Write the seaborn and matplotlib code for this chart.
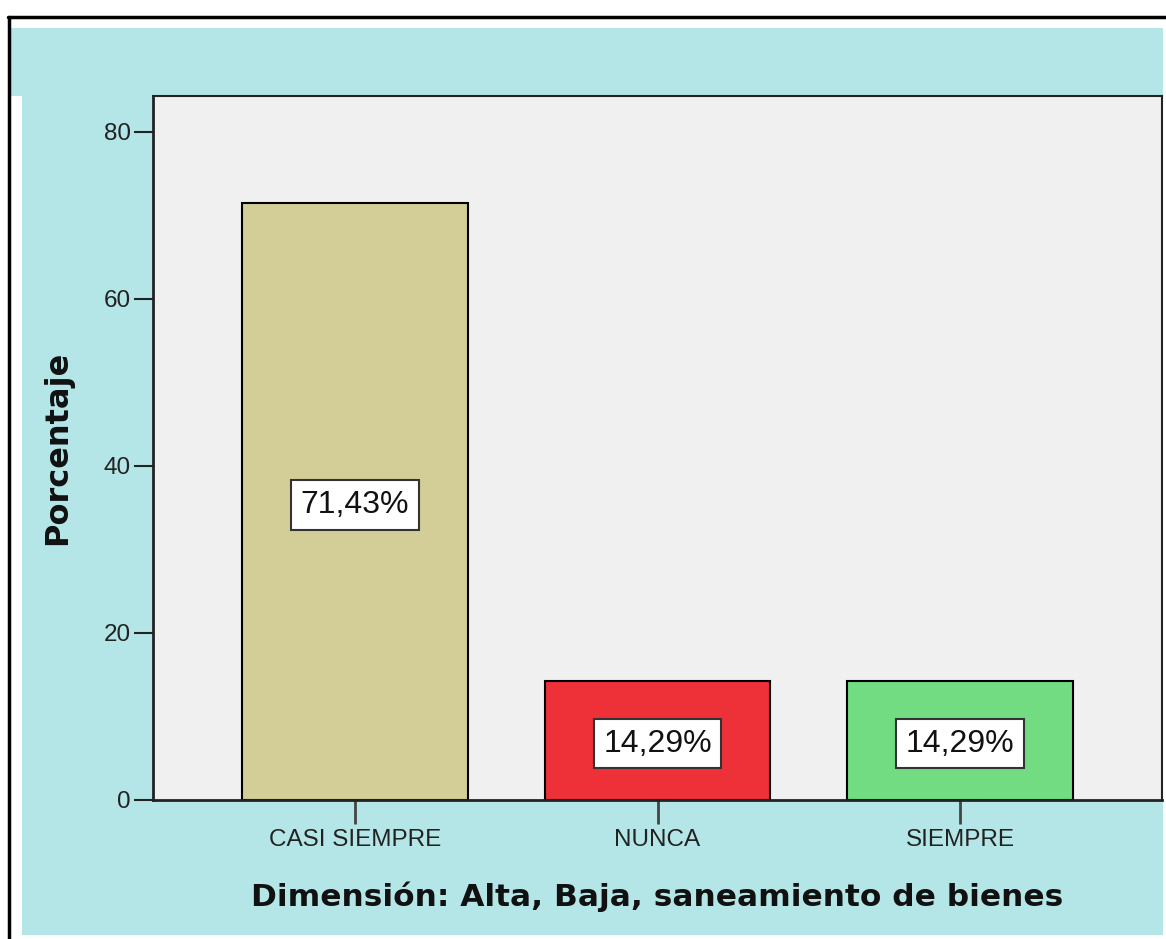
import seaborn as sns
import matplotlib.pyplot as plt
import pandas as pd
from matplotlib.patches import Rectangle
from matplotlib.lines import Line2D

categorias = ["CASI SIEMPRE", "NUNCA", "SIEMPRE"]
porcentajes = [71.43, 14.29, 14.29]
etiquetas = ["71,43%", "14,29%", "14,29%"]
colores = ["#d3ce97", "#ee3039", "#71dc82"]
yticks = [0, 20, 40, 60, 80]

df = pd.DataFrame({"cat": categorias, "pct": porcentajes})

sns.set_theme(style="white")
plt.rcParams["font.family"] = ["Liberation Sans", "DejaVu Sans"]

W, H = 1166, 939
fig = plt.figure(figsize=(W / 100, H / 100), dpi=100)
fig.patch.set_facecolor("white")

# marco y fondo
fig.patches.append(Rectangle((10 / W, 1 - 935 / H), 1153 / W, (935 - 28) / H,
                             transform=fig.transFigure, facecolor="#b5e6e7",
                             edgecolor="none", zorder=-10))
fig.patches.append(Rectangle((10 / W, 1 - 935 / H), 12 / W, (935 - 96) / H,
                             transform=fig.transFigure, facecolor="white",
                             edgecolor="none", zorder=-9))
fig.lines.append(Line2D([8 / W, 1], [1 - 17 / H, 1 - 17 / H], transform=fig.transFigure,
                        color="black", lw=2.5, zorder=-8))
fig.lines.append(Line2D([8.5 / W, 8.5 / W], [0, 1 - 17 / H], transform=fig.transFigure,
                        color="black", lw=2.5, zorder=-8))

ax = fig.add_axes([153 / W, 1 - 800 / H, (1162 - 153) / W, (800 - 96) / H])
ax.set_facecolor("#f0f0f0")

sns.barplot(data=df, x="cat", y="pct", hue="cat", palette=colores, legend=False,
            saturation=1, width=0.746, edgecolor="black", linewidth=1.5, ax=ax,
            zorder=2)

for i, (v, t) in enumerate(zip(porcentajes, etiquetas)):
    ax.text(i, v / 2 - 0.4, t, ha="center", va="center", fontsize=23, color="#111111",
            bbox=dict(boxstyle="square,pad=0.3", facecolor="white",
                      edgecolor="#333333", lw=1.5), zorder=3)

ax.set_xlim(-0.667, 2.667)
ax.set_ylim(0, 84.3)
ax.set_yticks(yticks)
ax.set_yticklabels([str(v) for v in yticks], fontsize=17.5, color="#222222")
ax.set_xticks(range(len(categorias)))
ax.set_xticklabels(categorias, fontsize=17.5, color="#222222")
ax.tick_params(axis="y", direction="out", length=14, width=1.5, color="#222222",
               left=True, pad=2)
ax.tick_params(axis="x", direction="out", length=17, width=2, color="#444444",
               bottom=True, pad=4)

for s in ax.spines.values():
    s.set_color("#222222")
    s.set_linewidth(1.5)
    s.set_visible(True)
ax.spines["left"].set_linewidth(2)
ax.spines["bottom"].set_linewidth(2)

ax.set_xlabel("Dimensión: Alta, Baja, saneamiento de bienes", fontsize=22.5,
              fontweight="bold", family="DejaVu Sans", color="#111111", labelpad=22)
ax.set_ylabel("Porcentaje", fontsize=23, fontweight="bold", family="DejaVu Sans",
              color="#111111", labelpad=22)

fig.savefig("out.png", dpi=100)
